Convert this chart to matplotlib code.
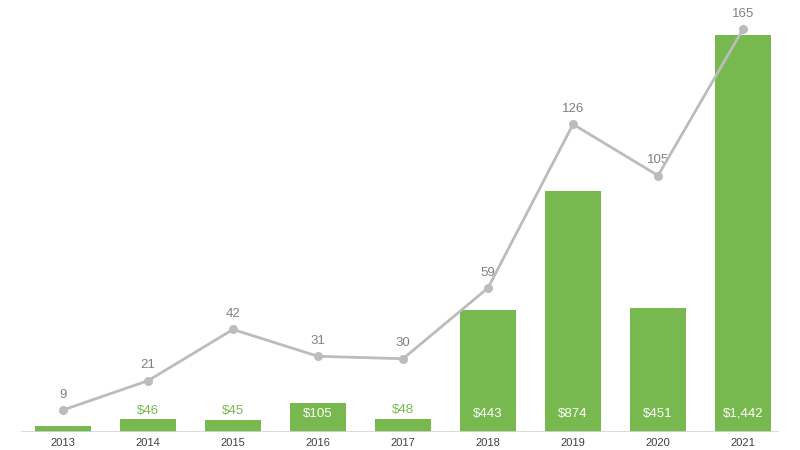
import matplotlib
matplotlib.use("Agg")
import matplotlib.pyplot as plt
import numpy as np

years = ["2013", "2014", "2015", "2016", "2017", "2018", "2019", "2020", "2021"]
amounts = [22, 46, 45, 105, 48, 443, 874, 451, 1442]
amount_labels = ["", "$46", "$45", "$105", "$48", "$443", "$874", "$451", "$1,442"]
inside = [False, False, False, True, False, True, True, True, True]
counts = [9, 21, 42, 31, 30, 59, 126, 105, 165]

green = "#77b94e"
gray_line = "#bcbcbc"
label_gray = "#808080"

plt.rcParams['font.family'] = ['Liberation Sans', 'DejaVu Sans']

fig = plt.figure(figsize=(8, 4.5), dpi=100)
ax = fig.add_axes([0.0, 0.04, 1.0, 0.94])
ax.set_xlim(-0.741, 8.67)
ax.set_ylim(0, 1537)
x = np.arange(len(years))
ax.bar(x, amounts, width=0.65, color=green, zorder=2)
for xi, v, lab, ins in zip(x, amounts, amount_labels, inside):
    if not lab:
        continue
    if ins:
        ax.annotate(lab, (xi, 0), xytext=(0, 13), textcoords="offset points",
                    ha="center", va="center", color="white", fontsize=9.5, zorder=5)
    else:
        ax.annotate(lab, (xi, v), xytext=(0, 6), textcoords="offset points",
                    ha="center", va="center", color=green, fontsize=9.5, zorder=5)

for s in ax.spines.values():
    s.set_visible(False)
ax.axhline(0, xmin=0.0275, xmax=0.9725, color="#d4d4d4", lw=1.2, zorder=3)
ax.set_yticks([])
ax.set_xticks(x)
ax.set_xticklabels(years, fontsize=8, color="#404040")
ax.tick_params(axis="x", length=0, pad=4)

ax2 = ax.twinx()
ax2.set_ylim(0, 173.2)
for s in ax2.spines.values():
    s.set_visible(False)
ax2.set_yticks([])
ax2.plot(x, counts, color=gray_line, lw=2, marker="o", markersize=5.5, zorder=4)
for xi, c in zip(x, counts):
    ax2.annotate(str(c), (xi, c), xytext=(0, 11), textcoords="offset points",
                 ha="center", va="center", color=label_gray, fontsize=9.5)

fig.savefig("out.png", dpi=100)
